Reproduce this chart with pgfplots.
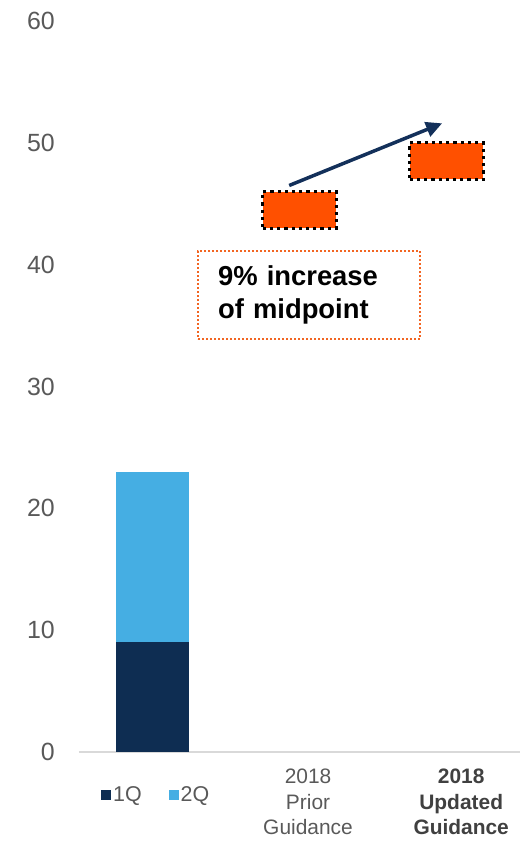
\documentclass[border=0pt]{standalone}
\usepackage{fontspec}
\setmainfont{Liberation Sans}
\usepackage{pgfplots}
\pgfplotsset{compat=1.18}
\usetikzlibrary{arrows.meta}
\definecolor{navy}{HTML}{0E2D52}
\definecolor{lblue}{HTML}{45AEE3}
\definecolor{orng}{HTML}{FF5000}
\definecolor{boxor}{HTML}{F26522}
\definecolor{txt}{HTML}{595959}
\definecolor{txtb}{HTML}{404040}
\definecolor{arrowc}{HTML}{13305A}
\definecolor{axl}{HTML}{D9D9D9}
\newcommand{\bl}[1]{\textcolor{txtb}{\textbf{#1}}}
\begin{document}
\begin{tikzpicture}
\begin{axis}[
 scale only axis, width=441bp, height=731bp,
 xmin=-0.5, xmax=2.5, ymin=0, ymax=60,
 axis x line=bottom, axis y line=left,
 x axis line style={axl, line width=1.2bp, -},
 y axis line style={draw=none},
 ytick={0,10,...,60},
 xtick={1.058,2.10},
 xticklabels={{2018\\Prior\\Guidance}, {\bl{2018}\\\bl{Updated}\\\bl{Guidance}}},
 major tick length=0pt,
 /pgf/number format/assume math mode=true,
 yticklabel style={font=\fontsize{25}{30}\selectfont, text=txt, inner sep=0pt, anchor=east, xshift=-24bp},
 xticklabel style={font=\fontsize{21}{25.5}\selectfont, text=txt, align=center, inner sep=0pt, anchor=north, yshift=-17bp},
 legend style={at={(0.175,-0.059)}, anchor=center, draw=none, fill=none, legend columns=2,
   font=\fontsize{21.5}{25}\selectfont, text=txt, inner sep=0pt,
   /tikz/every even column/.append style={column sep=25bp}},
 legend cell align=left,
 legend image code/.code={\fill[#1] (0bp,-5bp) rectangle (10bp,5bp);},
 clip=false,
]
\coordinate (bl) at (rel axis cs:0,0);
\coordinate (tr) at (rel axis cs:1,1);
% 2Q (top of stack, total 23) drawn first
\addplot[ybar, bar width=0.5, bar shift=0pt, fill=lblue, draw=none, forget plot] coordinates {(0,23)};
% 1Q
\addplot[ybar, bar width=0.5, bar shift=0pt, fill=navy, draw=none] coordinates {(0,9)};
\addlegendentry{1Q}
\addlegendimage{fill=lblue, draw=none}
\addlegendentry{2Q}
% guidance ranges
\addplot[fill=orng, draw=black, line width=3.2bp, dash pattern=on 3.2bp off 4bp, forget plot]
  coordinates {(0.75,43) (1.25,43) (1.25,46) (0.75,46)} -- cycle;
\addplot[fill=orng, draw=black, line width=3.2bp, dash pattern=on 3.2bp off 4bp, forget plot]
  coordinates {(1.75,47) (2.25,47) (2.25,50) (1.75,50)} -- cycle;
\draw[arrowc, line width=3.5bp, -{Triangle[length=16bp, width=15bp]}] (axis cs:0.93,46.5) -- (axis cs:1.97,51.6);
\node[draw=boxor, line width=2bp, dash pattern=on 2bp off 2bp, minimum width=222bp, minimum height=88bp,
  text width=182bp, inner xsep=20bp, align=left, font=\fontsize{27.5}{33}\selectfont\bfseries]
  at (axis cs:1.065,37.5) {9\% increase\\of midpoint};
\end{axis}
\pgfresetboundingbox
\path ([shift={(-79bp,-89bp)}]bl) rectangle ([shift={(4bp,21bp)}]tr);
\end{tikzpicture}
\end{document}
